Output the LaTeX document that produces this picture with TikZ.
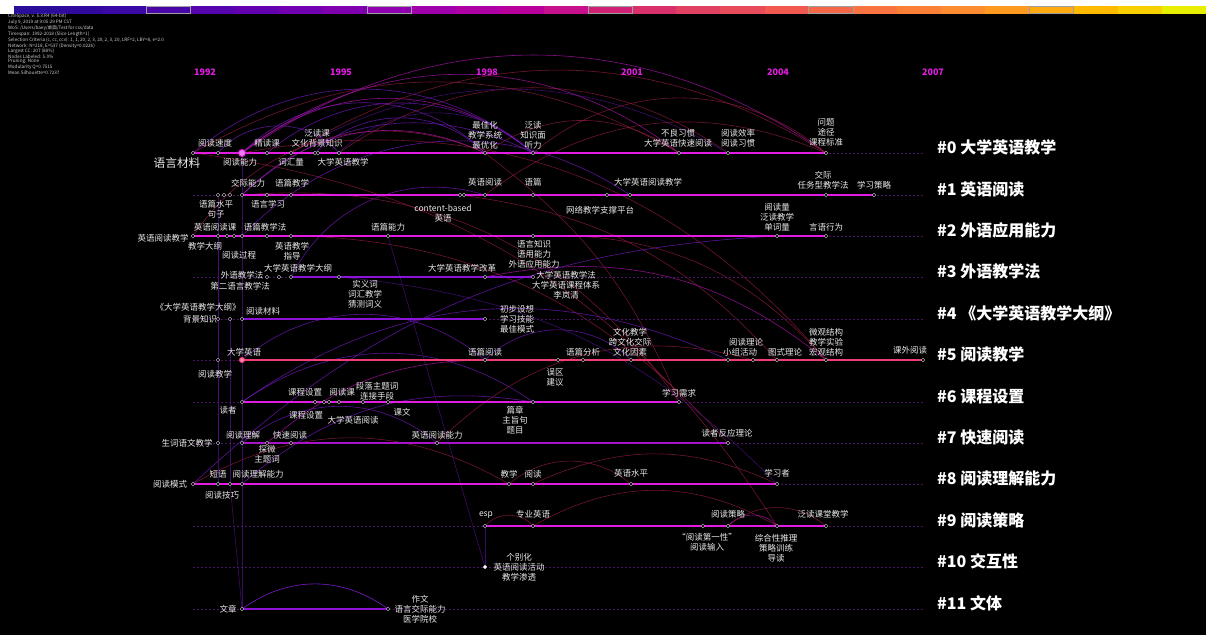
\documentclass[tikz,border=0pt]{standalone}
\usepackage{fontspec}
\setmainfont{Noto Sans CJK SC}
\usepackage{xcolor}
\usepackage{tikz}
\usetikzlibrary{shapes.geometric,calc}
\definecolor{citemag}{HTML}{E21CE2}
\definecolor{citeviolet}{HTML}{8C14D8}
\definecolor{citerose}{HTML}{F23C74}
\definecolor{citepourpre}{HTML}{A812C8}
\definecolor{citefil}{HTML}{4A1466}
\definecolor{citetxt}{HTML}{EAEAEA}
\definecolor{citegris}{HTML}{C8C8D0}
\definecolor{arcviolet}{HTML}{7A18C8}
\definecolor{arcmag}{HTML}{B414B4}
\definecolor{arcrouge}{HTML}{8A1A3A}
\definecolor{arcsombre}{HTML}{4A1080}
% barre des annees
\definecolor{bar0}{HTML}{2A0E9A}\definecolor{bar1}{HTML}{300A9C}\definecolor{bar2}{HTML}{3A08A2}
\definecolor{bar3}{HTML}{4A06A8}\definecolor{bar4}{HTML}{5604AC}\definecolor{bar5}{HTML}{6202AE}
\definecolor{bar6}{HTML}{7000B0}\definecolor{bar7}{HTML}{8000B0}\definecolor{bar8}{HTML}{9000B0}
\definecolor{bar9}{HTML}{A000AC}\definecolor{bar10}{HTML}{AE00A4}\definecolor{bar11}{HTML}{BA009A}
\definecolor{bar12}{HTML}{C6108C}\definecolor{bar13}{HTML}{D02076}\definecolor{bar14}{HTML}{D8306A}
\definecolor{bar15}{HTML}{E04062}\definecolor{bar16}{HTML}{E84C5A}\definecolor{bar17}{HTML}{F05A50}
\definecolor{bar18}{HTML}{F46848}\definecolor{bar19}{HTML}{F87440}\definecolor{bar20}{HTML}{FA8038}
\definecolor{bar21}{HTML}{FC8C30}\definecolor{bar22}{HTML}{FE9A20}\definecolor{bar23}{HTML}{FFAA10}
\definecolor{bar24}{HTML}{FFBA00}\definecolor{bar25}{HTML}{F8D000}\definecolor{bar26}{HTML}{E8EE00}
\pgfdeclarelayer{fond}
\pgfdeclarelayer{liens}
\pgfdeclarelayer{lignes}
\pgfsetlayers{fond,liens,lignes,main}

\begin{document}
\begin{tikzpicture}[
    x=1pt,y=-1pt,
    nd/.style    = {diamond,draw=citegris,fill=black,line width=0.4pt,
                    minimum size=4pt,inner sep=0pt},
    gros/.style  = {circle,draw=citemag,fill=citemag!55!white,line width=1pt,
                    minimum size=7pt,inner sep=0pt},
    etiq/.style  = {text=citetxt,font=\fontsize{8.5}{10}\selectfont,align=center,
                    inner sep=0pt},
    grp/.style   = {text=white,font=\fontsize{16}{18}\selectfont\bfseries,
                    anchor=west,inner sep=0pt},
    annee/.style = {text=citemag,font=\fontsize{9}{10}\selectfont\bfseries,inner sep=0pt},
    axe/.style   = {citefil,line width=0.6pt,dash pattern=on 2pt off 2pt},
    ligne/.style = {line width=1.7pt},
    lienA/.style = {arcviolet,line width=0.6pt,opacity=0.75},
    lienB/.style = {arcmag,line width=0.6pt,opacity=0.75},
    lienC/.style = {arcrouge,line width=0.6pt,opacity=0.8},
    lienD/.style = {arcsombre,line width=0.6pt,opacity=0.8},
  ]
  \useasboundingbox (0,0) rectangle (1206,635);

  % fond et barre des tranches
  \begin{pgfonlayer}{fond}
    \fill[white] (0,0) rectangle (1206,14);
    \fill[black] (0,13.5) rectangle (1206,635);
    \foreach \i in {0,...,26}
      \fill[bar\i] (14+\i*44.15,6) rectangle (14.4+\i*44.15+44.15,13.5);
    \foreach \i in {3,8,13,18,23}
      \draw[gray!75,line width=0.6pt] (14+\i*44.15,6.3) rectangle (14+\i*44.15+44.15,13.2);
  \end{pgfonlayer}

  \node[anchor=north west,inner sep=0pt,text=white!82!black,align=left,
        font=\fontsize{4.6}{4.3}\selectfont] (entete) at (8,14)
       {CiteSpace, v. 5.3.R4 (64-bit)\\July 9, 2019 at 9:05:29 PM CST\\
        WoS: /Users/baey/桌面/Test for css/data\\Timespan: 1992-2018 (Slice Length=1)\\
        Selection Criteria (c, cc, ccv): 1, 1, 20; 2, 3, 20; 2, 3, 20, LRF=2, LBY=8, e=2.0\\
        Network: N=218, E=537 (Density=0.0226)\\Largest CC: 207 (88\%)\\
        Nodes Labeled: 5.0\%\\Pruning: None\\Modularity Q=0.7515\\Mean Silhouette=0.7237};

  \node[annee] (a1992) at (205,72) {1992};
  \node[annee] (a1995) at (341,72) {1995};
  \node[annee] (a1998) at (487,72) {1998};
  \node[annee] (a2001) at (632,72) {2001};
  \node[annee] (a2004) at (778,72) {2004};
  \node[annee] (a2007) at (933,72) {2007};

  % axes des groupes
  \foreach \r/\y/\t in {0/153/大学英语教学,1/195/英语阅读,2/236/外语应用能力,
      3/277/外语教学法,4/319/《大学英语教学大纲》,5/360/阅读教学,6/402/课程设置,
      7/443/快速阅读,8/484/阅读理解能力,9/526/阅读策略,10/567/交互性,11/609/文体}{
    \coordinate (deb\r) at (193,\y);
    \coordinate (fin\r) at (923,\y);
    \node[grp] (g\r) at (937,\y-6) {\#\r\ \t};
  }

  % noeuds
  \foreach \x [count=\i] in {193,218,242,267,291,315,318,339,485,533,679,728,826}
    \node[nd] (r0-\i) at (\x,153) {};
  \foreach \x [count=\i] in {218,224,230,242,267,291,460,464,485,533,607,630,826,874}
    \node[nd] (r1-\i) at (\x,195) {};
  \foreach \x [count=\i] in {193,218,227,234,242,267,291,388,533,777,826}
    \node[nd] (r2-\i) at (\x,236) {};
  \foreach \x [count=\i] in {267,279,291,339,485,533}
    \node[nd] (r3-\i) at (\x,277) {};
  \foreach \x [count=\i] in {218,230,242,485}
    \node[nd] (r4-\i) at (\x,319) {};
  \foreach \x [count=\i] in {218,242,485,558,583,631,728,753,777,826,923}
    \node[nd] (r5-\i) at (\x,360) {};
  \foreach \x [count=\i] in {242,315,324,329,339,363,388,533,679}
    \node[nd] (r6-\i) at (\x,402) {};
  \foreach \x [count=\i] in {218,242,267,291,437,728}
    \node[nd] (r7-\i) at (\x,443) {};
  \foreach \x [count=\i] in {193,218,230,242,509,533,631,777}
    \node[nd] (r8-\i) at (\x,484) {};
  \foreach \x [count=\i] in {485,533,703,728,777,826}
    \node[nd] (r9-\i) at (\x,526) {};
  \node[nd,fill=white] (r10-1) at (485,567) {};
  \foreach \x [count=\i] in {242,388}
    \node[nd] (r11-\i) at (\x,609) {};
  \node[gros] (r0-big) at (r0-3) {};
  \node[gros,draw=citerose,fill=citerose!60!white,minimum size=5pt] (r5-big) at (r5-2) {};

  % axes et lignes de vie
  \begin{pgfonlayer}{lignes}
    \foreach \r in {0,...,11}
      \draw[axe] (deb\r) -- (fin\r);
    \draw[ligne,citemag]    (r0-1.center) -- (r0-13.center);
    \draw[ligne,citemag]    (r1-4.center) -- (r1-14.center);
    \draw[ligne,citemag]    (r2-1.center) -- (r2-11.center);
    \draw[ligne,citeviolet,line width=2.3pt] (r3-3.center) -- (r3-6.center);
    \draw[ligne,citeviolet] (r4-3.center) -- (r4-4.center);
    \draw[ligne,citerose]   (r5-2.center) -- (r5-11.center);
    \draw[ligne,citemag]    (r6-1.center) -- (r6-9.center);
    \draw[ligne,citepourpre] (r7-2.center) -- (r7-6.center);
    \draw[ligne,citemag]    (r8-1.center) -- (r8-8.center);
    \draw[ligne,citemag]    (r9-1.center) -- (r9-6.center);
    \draw[ligne,citeviolet] (r11-1.center) -- (r11-2.center);
  \end{pgfonlayer}

  % liens de co-occurrence
  \begin{pgfonlayer}{liens}
    \draw[lienB] (r0-3.center) to[bend left=35] (r0-13.center);
    \draw[lienC] (r0-1.center) to[bend left=30] (r0-11.center);
    \draw[lienA] (r0-3.center) to[bend left=45] (r0-9.center);
    \draw[lienB] (r0-3.center) to[bend left=40] (r0-10.center);
    \draw[lienC] (r0-8.center) to[bend left=35] (r0-12.center);
    \draw[lienA] (r0-4.center) to[bend left=40] (r0-10.center);
    \draw[lienA] (r0-6.center) to[bend left=45] (r0-9.center);
    \draw[lienA] (r0-2.center) to[bend left=50] (r0-8.center);
    \draw[lienC] (r0-10.center) to[bend left=40] (r0-13.center);
    \draw[lienD] (r0-5.center) to[bend left=30] (r0-12.center);
    \draw[lienC] (r0-9.center) to[bend left=35] (r0-11.center);
    \draw[lienB] (r0-3.center) to[bend left=38] (r0-11.center);
    \draw[lienA] (r0-1.center) to[bend left=40] (r0-10.center);
    \draw[lienC] (r0-5.center) to[bend left=32] (r0-13.center);
    \draw[lienD] (r0-8.center) to[bend left=45] (r0-10.center);
    \draw[lienA] (r1-4.center) to[bend left=35] (r0-10.center);
    \draw[lienC] (r2-1.center) to[bend left=40] (r0-9.center);
    \draw[lienC] (r1-9.center) to[bend left=30] (r0-13.center);
    \draw[lienA] (r2-5.center) to[bend left=40] (r1-12.center);
    \draw[lienA] (r3-3.center) to[bend left=40] (r1-9.center);
    \draw[lienB] (r1-4.center) to[bend left=35] (r0-9.center);
    \draw[lienC] (r2-9.center) to[bend left=25] (r5-10.center);
    \draw[lienC] (r1-7.center) to[bend left=20] (r5-9.center);
    \draw[lienC] (r0-9.center) to[bend left=15] (r6-9.center);
    \draw[lienB] (r3-5.center) to[bend left=25] (r5-10.center);
    \draw[lienC] (r0-3.center) to[bend left=30] (r5-10.center);
    \draw[lienC] (r1-4.center) to[bend left=30] (r6-9.center);
    \draw[lienC] (r2-5.center) to[bend left=25] (r7-6.center);
    \draw[lienC] (r0-1.center) to[bend left=25] (r9-5.center);
    \draw[lienD] (r3-4.center) to[bend left=20] (r8-8.center);
    \draw[lienA] (r8-1.center) to[bend left=20] (r2-10.center);
    \draw[lienA] (r5-2.center) to[bend left=40] (r5-3.center);
    \draw[lienA] (r5-3.center) to[bend left=45] (r5-6.center);
    \draw[lienA] (r6-1.center) to[bend left=35] (r6-8.center);
    \draw[lienA] (r6-1.center) to[bend left=30] (r5-7.center);
    \draw[lienA] (r7-2.center) to[bend left=40] (r7-5.center);
    \draw[lienC] (r7-5.center) to[bend left=30] (r5-8.center);
    \draw[lienB] (r7-3.center) to[bend left=20] (r5-3.center);
    \draw[lienA] (r8-4.center) to[bend left=25] (r6-8.center);
    \draw[lienC] (r8-1.center) to[bend left=30] (r8-5.center);
    \draw[lienC] (r8-5.center) to[bend left=40] (r8-7.center);
    \draw[lienC] (r8-6.center) to[bend left=25] (r8-8.center);
    \draw[lienC] (r9-2.center) to[bend left=30] (r9-5.center);
    \draw[lienC] (r9-1.center) to[bend left=50] (r9-2.center);
    \draw[lienB] (r9-4.center) to[bend left=50] (r9-5.center);
    \draw[lienC] (r9-4.center) to[bend left=40] (r9-6.center);
    \draw[lienA,opacity=1] (r11-1.center) to[bend left=36] (r11-2.center);
    \draw[lienD] (r0-3.center) -- (r11-1.center);
    \draw[lienD] (r2-2.center) -- (r8-2.center);
    \draw[lienD] (r8-3.center) -- (r11-1.center);
    \draw[lienD] (r10-1.center) -- (r9-1.center);
    \draw[lienD] (r10-1.center) -- (r2-8.center);
    \draw[lienD] (r1-1.center) -- (r7-1.center);
    \draw[lienD] (r4-2.center) -- (r8-3.center);
  \end{pgfonlayer}

  % etiquettes #0
  \node[etiq] (l0a) at (215,143) {阅读速度};
  \node[etiq] (l0b) at (267,143) {精读课};
  \node[etiq] (l0c) at (317,138) {泛读课\\文化背景知识};
  \node[etiq] (l0d) at (240,162) {阅读能力};
  \node[etiq] (l0e) at (291,162) {词汇量};
  \node[etiq] (l0f) at (343,162) {大学英语教学};
  \node[etiq,font=\fontsize{11.7}{14}\selectfont] (l0g) at (177,163) {语言材料};
  \node[etiq] (l0h) at (485,135) {最佳化\\教学系统\\最优化};
  \node[etiq] (l0i) at (533,135) {泛读\\知识面\\听力};
  \node[etiq] (l0j) at (678,138) {不良习惯\\大学英语快速阅读};
  \node[etiq] (l0k) at (738,138) {阅读效率\\阅读习惯};
  \node[etiq] (l0l) at (826,132) {问题\\途径\\课程标准};
  % etiquettes #1
  \node[etiq] (l1a) at (248,183) {交际能力};
  \node[etiq] (l1b) at (292,183) {语篇教学};
  \node[etiq] (l1c) at (216,209) {语篇水平\\句子};
  \node[etiq] (l1d) at (268,204) {语言学习};
  \node[etiq] (l1e) at (443,213) {content-based\\英语};
  \node[etiq] (l1f) at (485,182) {英语阅读};
  \node[etiq] (l1g) at (533,182) {语篇};
  \node[etiq] (l1h) at (648,182) {大学英语阅读教学};
  \node[etiq] (l1i) at (600,210) {网络教学支撑平台};
  \node[etiq] (l1j) at (823,180) {交际\\任务型教学法};
  \node[etiq] (l1k) at (874,185) {学习策略};
  % etiquettes #2
  \node[etiq] (l2a) at (163,238) {英语阅读教学};
  \node[etiq] (l2b) at (215,227) {英语阅读课};
  \node[etiq] (l2c) at (265,227) {语篇教学法};
  \node[etiq] (l2d) at (388,227) {语篇能力};
  \node[etiq] (l2e) at (205,246) {教学大纲};
  \node[etiq] (l2f) at (239,255) {阅读过程};
  \node[etiq] (l2g) at (292,251) {英语教学\\指导};
  \node[etiq] (l2h) at (534,254) {语言知识\\语用能力\\外语应用能力};
  \node[etiq] (l2i) at (777,217) {阅读量\\泛读教学\\单词量};
  \node[etiq] (l2j) at (826,227) {言语行为};
  % etiquettes #3
  \node[etiq] (l3a) at (242,275) {外语教学法};
  \node[etiq] (l3b) at (240,286) {第二语言教学法};
  \node[etiq] (l3c) at (298,268) {大学英语教学大纲};
  \node[etiq] (l3d) at (365,294) {实义词\\词汇教学\\猜测词义};
  \node[etiq] (l3e) at (462,268) {大学英语教学改革};
  \node[etiq] (l3f) at (566,285) {大学英语教学法\\大学英语课程体系\\李岚清};
  % etiquettes #4
  \node[etiq] (l4a) at (198,307) {《大学英语教学大纲》};
  \node[etiq] (l4b) at (200,319) {背景知识};
  \node[etiq] (l4c) at (263,311) {阅读材料};
  \node[etiq] (l4d) at (517,319) {初步设想\\学习技能\\最佳模式};
  % etiquettes #5
  \node[etiq] (l5a) at (244,352) {大学英语};
  \node[etiq] (l5b) at (215,374) {阅读教学};
  \node[etiq] (l5c) at (485,352) {语篇阅读};
  \node[etiq] (l5d) at (583,352) {语篇分析};
  \node[etiq] (l5e) at (630,342) {文化教学\\跨文化交际\\文化因素};
  \node[etiq] (l5f) at (746,342) {阅读理论};
  \node[etiq] (l5g) at (740,352) {小组活动};
  \node[etiq] (l5h) at (785,352) {图式理论};
  \node[etiq] (l5i) at (826,342) {微观结构\\教学实验\\宏观结构};
  \node[etiq] (l5j) at (910,350) {课外阅读};
  \node[etiq] (l5k) at (555,377) {误区\\建议};
  % etiquettes #6
  \node[etiq] (l6a) at (228,410) {读者};
  \node[etiq] (l6b) at (305,392) {课程设置};
  \node[etiq] (l6c) at (342,392) {阅读课};
  \node[etiq] (l6d) at (377,391) {段落主题词\\连接手段};
  \node[etiq] (l6e) at (679,393) {学习需求};
  \node[etiq] (l6f) at (306,415) {课程设置};
  \node[etiq] (l6g) at (353,420) {大学英语阅读};
  \node[etiq] (l6h) at (402,412) {课文};
  \node[etiq] (l6i) at (515,420) {篇章\\主旨句\\题目};
  % etiquettes #7
  \node[etiq] (l7a) at (187,443) {生词语文教学};
  \node[etiq] (l7b) at (243,435) {阅读理解};
  \node[etiq] (l7c) at (290,435) {快速阅读};
  \node[etiq] (l7d) at (267,454) {探微\\主题词};
  \node[etiq] (l7e) at (437,435) {英语阅读能力};
  \node[etiq] (l7f) at (727,433) {读者反应理论};
  % etiquettes #8
  \node[etiq] (l8a) at (170,484) {阅读模式};
  \node[etiq] (l8b) at (218,474) {短语};
  \node[etiq] (l8c) at (258,474) {阅读理解能力};
  \node[etiq] (l8d) at (222,495) {阅读技巧};
  \node[etiq] (l8e) at (509,474) {教学};
  \node[etiq] (l8f) at (533,474) {阅读};
  \node[etiq] (l8g) at (631,473) {英语水平};
  \node[etiq] (l8h) at (777,473) {学习者};
  % etiquettes #9
  \node[etiq] (l9a) at (486,515) {esp};
  \node[etiq] (l9b) at (533,514) {专业英语};
  \node[etiq] (l9c) at (728,514) {阅读策略};
  \node[etiq] (l9d) at (823,514) {泛读课堂教学};
  \node[etiq] (l9e) at (707,542) {“阅读第一性”\\阅读输入};
  \node[etiq] (l9f) at (776,548) {综合性推理\\策略训练\\导读};
  % etiquettes #10 et #11
  \node[etiq] (l10a) at (519,567) {个别化\\英语阅读活动\\教学渗透};
  \node[etiq] (l11a) at (228,609) {文章};
  \node[etiq] (l11b) at (420,609) {作文\\语言交际能力\\医学院校};

\end{tikzpicture}
\end{document}
